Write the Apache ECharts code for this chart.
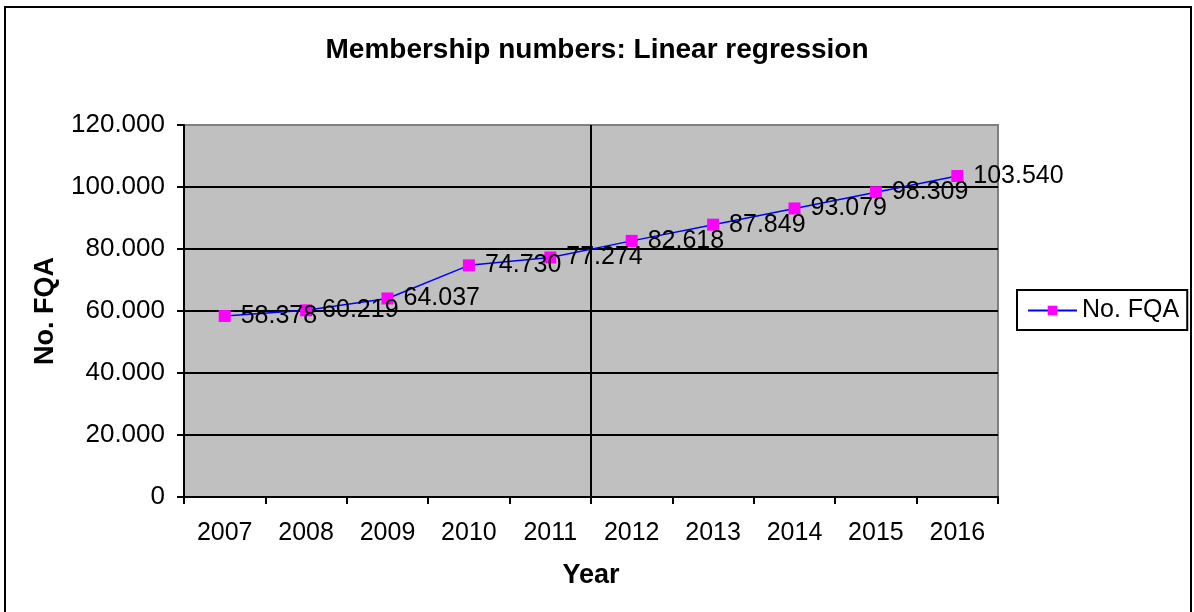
<!DOCTYPE html>
<html>
<head>
<meta charset="utf-8">
<title>Membership numbers: Linear regression</title>
<script src="https://cdn.jsdelivr.net/npm/echarts@6/dist/echarts.min.js"></script>
<style>
  html, body { margin: 0; padding: 0; background: #fff; }
  #frame {
    position: absolute; left: 4px; top: 6px; width: 1188px; height: 620px;
    border: 2px solid #000; box-sizing: border-box;
  }
  #main { position: absolute; left: 0; top: 0; width: 1194px; height: 612px; }
</style>
</head>
<body>
<div id="frame"></div>
<div id="main"></div>
<script>
// 年份（分类轴）
const years = ['2007', '2008', '2009', '2010', '2011', '2012', '2013', '2014', '2015', '2016'];
// 会员数（线性回归）
const members = [58378, 60219, 64037, 74730, 77274, 82618, 87849, 93079, 98309, 103540];
// 纵轴刻度
const yMin = 0;
const yMax = 120000;
const yStep = 20000;
// 竖线位置：第 5 个年份之后（2011 与 2012 之间）
const dividerAfter = 5;

const FONT = '"Liberation Sans", Arial, sans-serif';

// 千位分隔符用点号
function fmt(v) {
  return String(Math.round(v)).replace(/\B(?=(\d{3})+(?!\d))/g, '.');
}

const chart = echarts.init(document.getElementById('main'), null, { renderer: 'canvas' });

const option = {
  animation: false,
  backgroundColor: 'transparent',
  textStyle: { fontFamily: FONT },
  title: {
    text: 'Membership numbers: Linear regression',
    left: 'center',
    top: 31,
    textStyle: { fontFamily: FONT, fontSize: 28, fontWeight: 'bold', color: '#000' }
  },
  legend: {
    left: 1017,
    top: 290,
    orient: 'vertical',
    padding: [8, 8, 7, 10],
    borderColor: '#000',
    borderWidth: 2,
    itemWidth: 49,
    itemHeight: 12,
    itemGap: 8,
    textStyle: { fontFamily: FONT, fontSize: 25, color: '#000' },
    data: ['No. FQA']
  },
  grid: {
    left: 184,
    top: 125,
    right: 196,
    bottom: 115,
    show: true,
    backgroundColor: '#C0C0C0',
    borderColor: '#808080',
    borderWidth: 2
  },
  xAxis: [
    {
      type: 'category',
      data: years,
      boundaryGap: true,
      name: 'Year',
      nameLocation: 'middle',
      nameGap: 65,
      nameTextStyle: { fontFamily: FONT, fontSize: 27, fontWeight: 'bold', color: '#000' },
      axisLine: { show: true, lineStyle: { color: '#000', width: 2 } },
      axisTick: { show: true, length: 7, alignWithLabel: false, lineStyle: { color: '#000', width: 2 } },
      axisLabel: { margin: 24, fontFamily: FONT, fontSize: 25, color: '#000' },
      splitLine: { show: false }
    },
    {
      // 隐藏的辅助轴，用来放竖线
      type: 'value',
      show: false,
      min: 0,
      max: years.length,
      position: 'bottom'
    }
  ],
  yAxis: {
    type: 'value',
    min: yMin,
    max: yMax,
    interval: yStep,
    name: 'No. FQA',
    nameLocation: 'middle',
    nameGap: 125,
    nameTextStyle: { fontFamily: FONT, fontSize: 27, fontWeight: 'bold', color: '#000' },
    axisLine: { show: true, lineStyle: { color: '#000', width: 2 } },
    axisTick: { show: true, length: 7, lineStyle: { color: '#000', width: 2 } },
    axisLabel: { margin: 19, fontFamily: FONT, fontSize: 26, color: '#000', formatter: fmt },
    splitLine: {
      show: true,
      showMaxLine: false,
      lineStyle: { color: '#000', width: 2 }
    }
  },
  series: [
    {
      name: 'divider',
      type: 'line',
      xAxisIndex: 1,
      data: [],
      z: 1,
      markLine: {
        silent: true,
        symbol: 'none',
        label: { show: false },
        lineStyle: { color: '#000', width: 2, type: 'solid' },
        data: [{ xAxis: dividerAfter }]
      }
    },
    {
      name: 'No. FQA',
      type: 'line',
      data: members,
      z: 3,
      symbol: 'rect',
      symbolSize: 12,
      itemStyle: { color: '#FF00FF' },
      lineStyle: { color: '#0000FF', width: 1.5 },
      label: {
        show: true,
        position: 'right',
        distance: 10,
        fontFamily: FONT,
        fontSize: 25,
        color: '#000',
        formatter: function (p) { return fmt(p.value); }
      }
    }
  ]
};

chart.setOption(option);
</script>
</body>
</html>
